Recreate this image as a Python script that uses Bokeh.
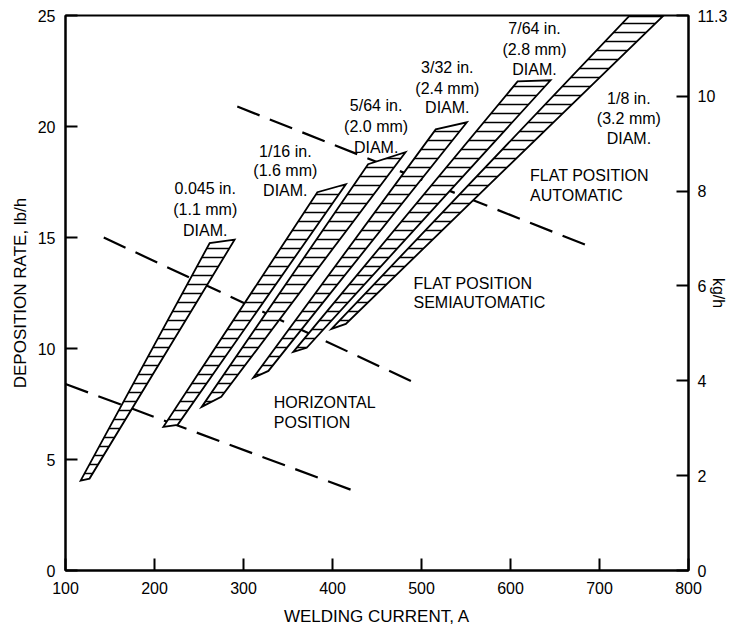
import numpy as np
from bokeh.plotting import figure
from bokeh.models import Range1d, LinearAxis, FixedTicker, ColumnDataSource
from bokeh.embed import file_html
from bokeh.resources import INLINE
from bokeh.core.properties import value

# ---------------- data ----------------
x_ticks = [100, 200, 300, 400, 500, 600, 700, 800]
y_ticks = [0, 5, 10, 15, 20, 25]
kg_ticks = [0, 2, 4, 6, 8, 10]
kg_top = 11.7          # position of the axis end on the kg/h scale as drawn
kg_top_label = "11.3"

# electrode bands: corners (bottom-left, bottom-right, top-right, top-left)
band_inch = ["0.045 in.", "1/16 in.", "5/64 in.", "3/32 in.", "7/64 in.", "1/8 in."]
band_mm = ["(1.1 mm)", "(1.6 mm)", "(2.0 mm)", "(2.4 mm)", "(2.8 mm)", "(3.2 mm)"]
band_current = [
    [117, 127, 290, 262],
    [210, 226, 415, 383],
    [253, 275, 482, 440],
    [311, 328, 551, 516],
    [356, 371, 645, 608],
    [399, 415, 771, 733],
]
band_rate = [
    [4.05, 4.14, 14.9, 14.75],
    [6.47, 6.56, 17.4, 17.04],
    [7.37, 7.82, 18.84, 18.3],
    [8.68, 8.99, 20.19, 19.87],
    [9.85, 10.03, 22.08, 22.03],
    [10.88, 11.11, 24.96, 24.96],
]

# position boundary lines (dashed)
horiz_current = [100, 430]
horiz_rate = [8.4, 3.5]
semi_current = [143, 490]
semi_rate = [15.0, 8.5]
auto_current = [293, 695]
auto_rate = [20.9, 14.5]

FONT = "Liberation Sans"

p = figure(width=730, height=628, output_backend="svg", toolbar_location=None,
           x_range=Range1d(100, 800), y_range=Range1d(0, 25),
           min_border_left=65, min_border_right=42, min_border_top=15, min_border_bottom=57,
           background_fill_color="white", border_fill_color="white")
p.grid.visible = False
p.outline_line_color = "black"
p.outline_line_width = 2

p.extra_y_ranges = {"kg": Range1d(0, kg_top)}
rax = LinearAxis(y_range_name="kg")
p.add_layout(rax, "right")

p.xaxis.ticker = FixedTicker(ticks=x_ticks)
p.yaxis[0].ticker = FixedTicker(ticks=y_ticks)
rax.ticker = FixedTicker(ticks=kg_ticks + [kg_top])
rax.major_label_overrides = {kg_top: kg_top_label}
p.xaxis.axis_label = "WELDING CURRENT, A"
p.yaxis[0].axis_label = "DEPOSITION RATE, lb/h"
rax.axis_label = "kg/h"

for ax in p.axis:
    ax.axis_line_width = 2
    ax.axis_line_color = "black"
    ax.major_tick_line_width = 2
    ax.major_tick_line_color = "black"
    ax.major_tick_in = 12
    ax.major_tick_out = 0
    ax.minor_tick_line_color = None
    ax.major_label_text_font = FONT
    ax.major_label_text_font_size = "16px"
    ax.major_label_text_color = "black"
    ax.axis_label_text_font = FONT
    ax.axis_label_text_font_size = "17px"
    ax.axis_label_text_font_style = "normal"
    ax.axis_label_text_color = "black"

p.xaxis.major_label_standoff = 11
p.xaxis.axis_label_standoff = 10
p.yaxis[0].major_label_standoff = 10
p.yaxis[0].axis_label_standoff = 5
rax.major_label_standoff = 9
rax.axis_label_standoff = -20
rax.axis_label_text_font_size = "16px"

# dashed boundaries (drawn below the bands)
for xs, ys in [(horiz_current, horiz_rate), (semi_current, semi_rate), (auto_current, auto_rate)]:
    p.line(xs, ys, line_color="black", line_width=2.2, line_dash="24 11")

# hatched bands
p.patches(xs=band_current, ys=band_rate, fill_color="white", line_color="black",
          line_width=1.8, line_join="miter",
          hatch_pattern="horizontal_line", hatch_scale=9, hatch_weight=1.5,
          hatch_color="black")

# band labels
lab_x = [257, 347, 449, 529, 627, 733]
lab_y1 = [17.22, 18.88, 20.95, 22.66, 24.42, 21.27]
lab_y2 = [16.28, 18.03, 20.01, 21.72, 23.47, 20.37]
lab_y3 = [15.33, 17.13, 19.06, 20.86, 22.57, 19.47]
txt, tx, ty = [], [], []
for i in range(len(band_inch)):
    txt += [band_inch[i], band_mm[i], "DIAM."]
    tx += [lab_x[i]] * 3
    ty += [lab_y1[i], lab_y2[i], lab_y3[i]]
src = ColumnDataSource(dict(x=tx, y=ty, t=txt))
p.text(x="x", y="y", text="t", source=src, text_font=value(FONT),
       text_font_size=value("16px"), text_align="center", text_baseline="middle",
       text_color="black")

# region labels
reg_txt = ["FLAT POSITION", "AUTOMATIC", "FLAT POSITION", "SEMIAUTOMATIC", "HORIZONTAL", "POSITION"]
reg_x = [622, 622, 491, 491, 334, 334]
reg_y = [17.81, 16.91, 12.95, 12.05, 7.55, 6.65]
src2 = ColumnDataSource(dict(x=reg_x, y=reg_y, t=reg_txt))
p.text(x="x", y="y", text="t", source=src2, text_font=value(FONT),
       text_font_size=value("16px"), text_align="left", text_baseline="middle",
       text_color="black")

open("out.html", "w").write(file_html(p, INLINE))
